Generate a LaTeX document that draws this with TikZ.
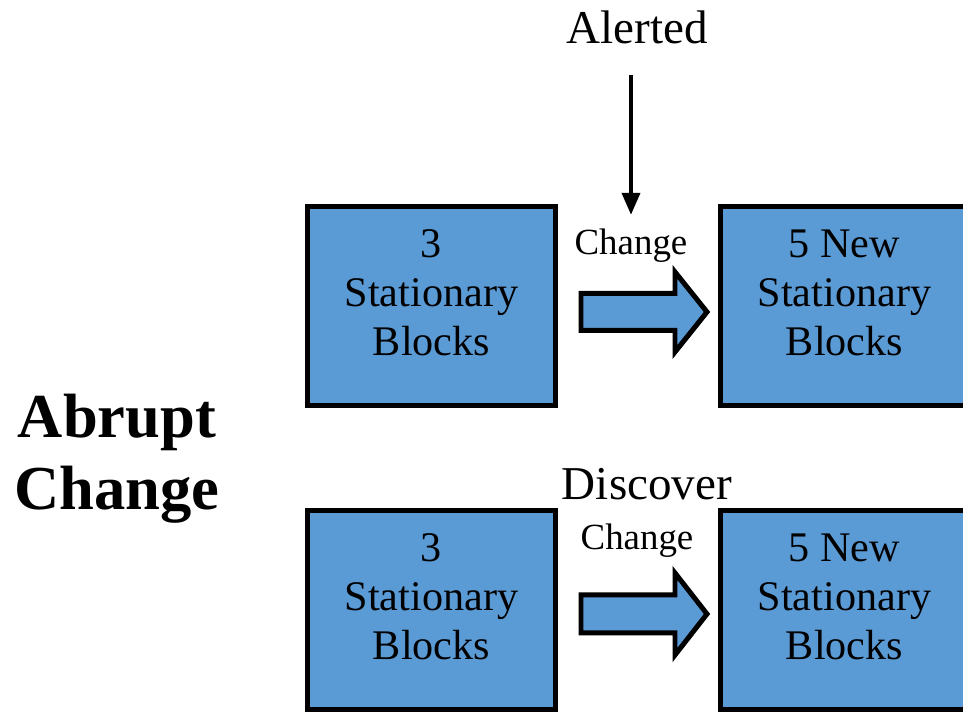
\documentclass[tikz,border=0pt]{standalone}
\usepackage{fontspec}
\setmainfont{Liberation Serif}
\usepackage{tikz}
\usetikzlibrary{arrows.meta,positioning,calc}
\definecolor{blockblue}{HTML}{5B9BD5}

\begin{document}
\begin{tikzpicture}[
    block/.style={draw, line width=1.42pt, fill=blockblue, minimum width=2.48cm,
        minimum height=1.99cm, align=center, text depth=0.27cm,
        font=\fontsize{12}{14}\selectfont},
    bigarrow/.style={draw, line width=1.42pt, fill=blockblue},
    thinarrow/.style={-{Triangle[length=2.2mm,width=1.8mm]}, line width=1.1pt},
    small/.style={font=\fontsize{10.5}{12}\selectfont},
    label/.style={font=\fontsize{13.4}{15}\selectfont}
]
    \clip (0,0) rectangle (9.63,7.13);

    % Title
    \node[align=center, font=\fontsize{17.8}{20.5}\selectfont\bfseries] (title) at (1.17,2.54) {Abrupt\\Change};

    % Upper row
    \node[block] (tl) at (4.315,4.07) {3\\Stationary\\Blocks};
    \node[block] (tr) at (8.445,4.07) {5 New\\Stationary\\Blocks};
    \draw[bigarrow] (5.81,3.825) -- ++(0.94,0) -- ++(0,-0.215) -- (7.07,4.01)
        -- (6.75,4.41) -- ++(0,-0.215) -- (5.81,4.195) -- cycle;
    \node[small] (chg1) at (6.31,4.67) {Change};
    \node[label] (alerted) at (6.37,6.86) {Alerted};
    \draw[thinarrow, shorten <=0.19cm, shorten >=0.02cm] (alerted.south -| chg1.north) -- (chg1.north);

    % Lower row
    \node[block] (bl) at (4.315,1.03) {3\\Stationary\\Blocks};
    \node[block] (br) at (8.445,1.03) {5 New\\Stationary\\Blocks};
    \draw[bigarrow] (5.81,0.80) -- ++(0.94,0) -- ++(0,-0.22) -- (7.07,0.99)
        -- (6.75,1.40) -- ++(0,-0.22) -- (5.81,1.18) -- cycle;
    \node[label] (discover) at (6.47,2.29) {Discover};
    \node[small] (chg2) at (6.37,1.72) {Change};
\end{tikzpicture}
\end{document}
